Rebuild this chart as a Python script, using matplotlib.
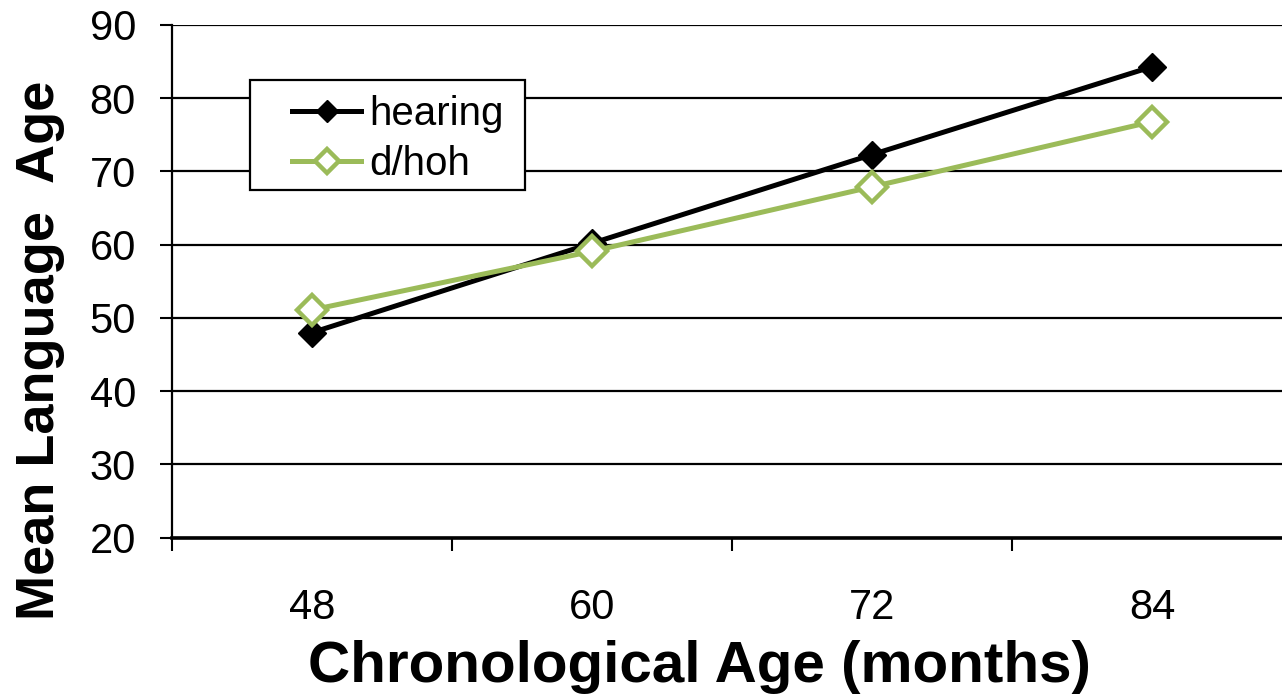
import numpy as np
import matplotlib
matplotlib.use('Agg')
import matplotlib.pyplot as plt
from matplotlib.patches import Rectangle

# ── Data ──
months = ['48', '60', '72', '84']
hearing = [48.0, 60.2, 72.3, 84.3]
dhoh = [51.1, 59.1, 67.9, 76.8]

BLACK = '#000000'
GREEN = '#9BBB59'

plt.rcParams['font.family'] = ['Liberation Sans', 'DejaVu Sans']

fig = plt.figure(figsize=(12.82, 6.98), dpi=100)
ax = fig.add_axes([0.1342, 0.2297, 0.8736, 0.7345])

x = np.arange(len(months))
ax.plot(x, hearing, color=BLACK, lw=3.6, marker='D', ms=14,
        mfc=BLACK, mec=BLACK, label='hearing', zorder=3)
ax.plot(x, dhoh, color=GREEN, lw=3.6, marker='D', ms=15,
        mfc='white', mec=GREEN, mew=3.2, label='d/hoh', zorder=4)

# ── Axes styling ──
ax.set_xlim(-0.5, len(months) - 0.5)
ax.set_ylim(20, 90)
ax.set_yticks(np.arange(20, 91, 10))
ax.yaxis.grid(True, color=BLACK, lw=1.6)
ax.set_axisbelow(True)

ax.set_xticks(np.arange(-0.5, len(months) - 0.4, 1))
ax.set_xticklabels([])
ax.set_xticks(x, minor=True)
ax.set_xticklabels(months, minor=True)
ax.tick_params(axis='x', which='major', length=9, width=1.5, direction='out')
ax.tick_params(axis='x', which='minor', length=0, pad=36, labelsize=30)
ax.tick_params(axis='y', length=9, width=1.5, direction='out', pad=17, labelsize=30)

for s in ['top', 'right']:
    ax.spines[s].set_visible(False)
ax.spines['left'].set_linewidth(1.6)
ax.spines['bottom'].set_linewidth(2.6)

ax.set_xlabel('Chronological Age (months)', fontsize=42, fontweight='bold', va='center')
ax.xaxis.set_label_coords(0.471, -0.252)
ax.set_ylabel('Mean Language  Age', fontsize=39, fontweight='bold', va='center')
ax.yaxis.set_label_coords(-0.118, 0.366)

# ── Legend: boxed, with wide left margin ──
box = Rectangle((0.0696, 0.6782), 0.2456, 0.2145, transform=ax.transAxes,
                facecolor='white', edgecolor=BLACK, lw=1.6, zorder=5)
ax.add_patch(box)
leg = ax.legend(loc='upper left', bbox_to_anchor=(0.1075, 0.864), fontsize=29,
                frameon=False, handlelength=1.7, handletextpad=0.2,
                borderpad=0, labelspacing=0.3, borderaxespad=0, markerscale=0.8)
leg.set_zorder(6)

fig.savefig('out.png', dpi=100, facecolor='white')
